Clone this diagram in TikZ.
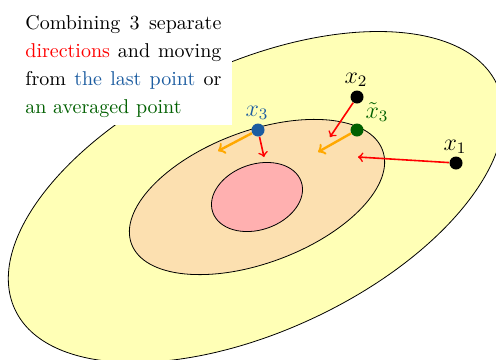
\documentclass[tikz,border=0pt]{standalone}
\usepackage{amsmath,amssymb}
\usepackage{tikz}

\definecolor{outerfill}{RGB}{255,255,182}
\definecolor{midfill}{RGB}{252,224,176}
\definecolor{innerfill}{RGB}{255,176,176}
\definecolor{lastblue}{RGB}{28,92,160}
\definecolor{avggreen}{RGB}{0,96,0}
\definecolor{movecol}{RGB}{255,168,0}

\begin{document}
\begin{tikzpicture}[x=0.5pt,y=-0.5pt,
  pt/.style={circle,fill,inner sep=0pt,minimum size=6.5pt},
  dir/.style={->,red,thick},
  mov/.style={->,movecol,very thick},
  lbl/.style={font=\large,inner sep=0pt}]
\useasboundingbox (0,0) rectangle (496,359);
\begin{scope}
\clip (0,0) rectangle (496,359);
\coordinate (c) at (256,197);
\draw[fill=outerfill,rotate around={25:(c)}] (c) ellipse [x radius=133pt,y radius=67pt];
\draw[fill=midfill,rotate around={20.5:(257,197)}] (257,197) ellipse [x radius=67pt,y radius=33pt];
\draw[fill=innerfill,rotate around={19:(257,197)}] (257,197) ellipse [x radius=23.4pt,y radius=16.4pt];
\end{scope}
% text box
\fill[white] (0,0) rectangle (232,125);
\node[anchor=base west,inner sep=0pt,text width=98pt,align=justify,font=\fontsize{10}{14}\selectfont] (txt) at (25,29)
  {Combining 3 separate\linebreak {\color{red}directions} and moving\linebreak from {\color{lastblue}the last point} or\linebreak {\color{avggreen}an averaged point}};
% points
\node[pt] (x1) at (456,163) {};
\node[pt] (x2) at (357,97) {};
\node[pt,fill=avggreen] (xt3) at (357,130) {};
\node[pt,fill=lastblue] (x3) at (258,130) {};
\node[lbl] (lx1) at (455,147) {$x_1$};
\node[lbl] (lx2) at (356,80) {$x_2$};
\node[lbl,text=avggreen] (lxt3) at (377,112) {$\tilde{x}_3$};
\node[lbl,text=lastblue] (lx3) at (257,113) {$x_3$};
% directions and moves
\coordinate (d1) at (358,157);
\coordinate (d2) at (330,137);
\coordinate (d3) at (264,157);
\coordinate (m3) at (218,151);
\coordinate (mt3) at (318,152);
\draw[dir] (x1) -- (d1);
\draw[dir] (x2) -- (d2);
\draw[dir] (x3) -- (d3);
\draw[mov] (x3) -- (m3);
\draw[mov] (xt3) -- (mt3);
\end{tikzpicture}
\end{document}
